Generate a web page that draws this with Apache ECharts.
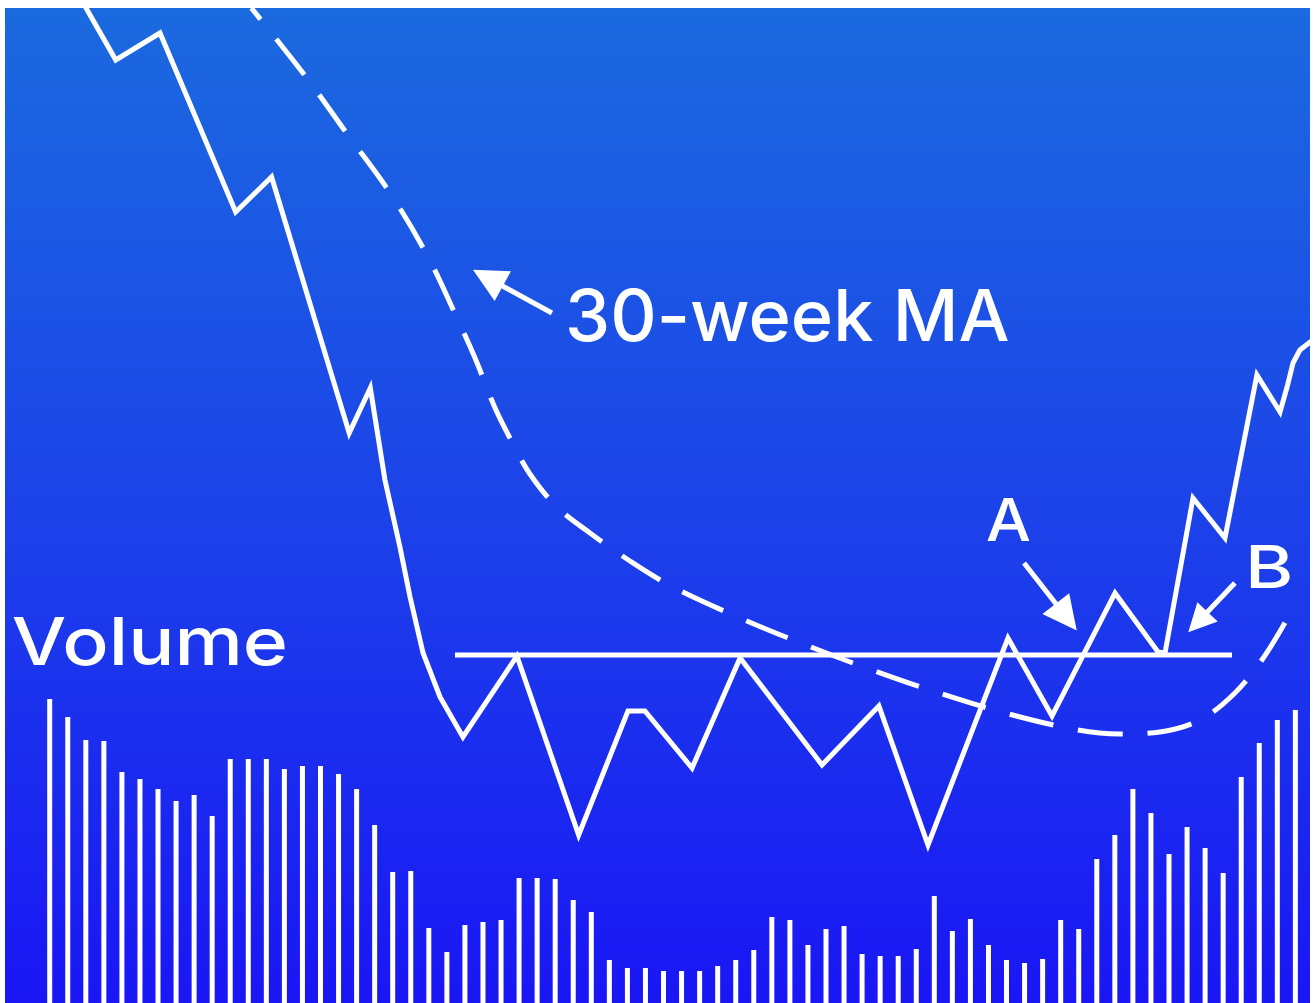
<!DOCTYPE html>
<html>
<head>
<meta charset="utf-8">
<script src="https://cdn.jsdelivr.net/npm/echarts@6/dist/echarts.min.js"></script>
<style>
html,body{margin:0;padding:0;background:#ffffff;}
#c{width:1314px;height:1003px;}
</style>
</head>
<body>
<div id="c"></div>
<script>
// ---- data ----
const volumeWeeks = [1,2,3,4,5,6,7,8,9,10,11,12,13,14,15,16,17,18,19,20,21,22,23,24,25,26,27,28,29,30,31,32,33,34,35,36,37,38,39,40,41,42,43,44,45,46,47,48,49,50,51,52,53,54,55,56,57,58,59,60,61,62,63,64,65,66,67,68,69,70];
const volume = [304,286,263,262,231,224,214,202,208,187,244,244,244,234,237,237,229,214,178,131,132,75,51,78,81,83,125,125,124,103,91,43,35,35,32,32,32,37,43,53,86,83,58,74,77,49,47,47,54,107,72,84,58,43,40,44,83,74,144,168,214,190,149,176,155,130,226,260,283,293];

const priceWeeks = [2.76,4.66,7.11,11.30,13.29,17.59,18.76,19.57,20.40,20.96,21.68,22.62,23.89,26.88,30.30,33.03,33.97,36.58,39.24,43.78,46.93,49.65,54.08,56.52,60.01,62.39,62.78,64.33,66.10,67.87,69.15,69.54,69.87,70.25,70.97];
const priceValues = [100.3,94.3,97.0,79.1,82.6,57.0,61.5,52.3,45.6,40.6,35.0,30.6,26.6,34.7,16.8,29.2,29.2,23.5,34.5,23.8,29.7,15.8,36.5,28.7,41.0,35.1,35.0,50.5,46.5,62.8,59.1,61.6,64.0,65.3,66.3];

const maWeeks = [12.17,15.24,17.52,19.85,21.90,23.56,24.56,25.67,26.61,27.60,29.10,30.93,33.14,35.52,39.24,42.89,46.55,50.26,54.13,57.96,60.28,62.50,64.71,66.65,68.26,69.70];
const maValues = [99.5,92.5,86.8,81.0,74.8,68.5,64.5,59.5,56.1,52.9,49.6,47.0,44.2,41.6,38.5,35.8,33.3,31.0,28.9,27.3,26.9,27.1,28.3,31.0,34.6,38.9];

const resistanceWeeks = [23.45, 66.49];
const resistanceLevel = 34.8;

// annotation arrows: tail point and arrow-head centre
const arrowFrom = [[28.82,69.0],[54.97,44.0],[66.65,42.0]];
const arrowTo = [[25.27,72.5],[57.31,38.6],[64.60,38.1]];

const labelTexts = ['30-week MA','Volume','A','B'];

// ---- build ----
const chart = echarts.init(document.getElementById('c'), null, {renderer:'canvas'});

const FONT_FAMILY = 'Inter, "Noto Sans", sans-serif';
const FONT_WEIGHT = 500;
const mctx = document.createElement('canvas').getContext('2d');
function fitText(text, left, right, capTop, baseline) {
  const test = 100;
  mctx.font = FONT_WEIGHT + ' ' + test + 'px ' + FONT_FAMILY;
  mctx.textBaseline = 'alphabetic';
  const capR = mctx.measureText('H').actualBoundingBoxAscent / test;
  const size = (baseline - capTop) / capR;
  mctx.font = FONT_WEIGHT + ' ' + size + 'px ' + FONT_FAMILY;
  mctx.textBaseline = 'alphabetic';
  const m = mctx.measureText(text);
  const ink = m.actualBoundingBoxLeft + m.actualBoundingBoxRight;
  const sx = (right - left) / ink;
  mctx.textBaseline = 'middle';
  const mH = mctx.measureText('H').actualBoundingBoxAscent;
  return {
    type: 'text', z: 100,
    x: left + m.actualBoundingBoxLeft * sx,
    y: capTop + mH,
    scaleX: sx,
    style: {
      text: text, x: 0, y: 0,
      font: FONT_WEIGHT + ' ' + size + 'px ' + FONT_FAMILY,
      fill: '#ffffff',
      textAlign: 'left', textVerticalAlign: 'middle',
      align: 'left', verticalAlign: 'middle'
    }
  };
}

const pricePts = priceWeeks.map((w,i)=>[w, priceValues[i]]);
const maPts = maWeeks.map((w,i)=>[w, maValues[i]]);
const volPts = volumeWeeks.map((w,i)=>[w, volume[i]]);

const headSizes = [34, 34, 28];
const arrowData = arrowFrom.map((f,i)=>[
  {coord:f, symbol:'none'},
  {coord:arrowTo[i], symbol:'triangle', symbolSize:headSizes[i]}
]);

chart.setOption({
  animation: false,
  backgroundColor: '#ffffff',
  graphic: [
    {
      type: 'rect', z: -10,
      shape: {x:5, y:8, width:1305, height:995},
      style: {
        fill: new echarts.graphic.LinearGradient(0,0,0,1,[
          {offset:0, color:'#1b6adf'},
          {offset:0.5, color:'#1c43e9'},
          {offset:1, color:'#1a16f5'}
        ])
      }
    },
    fitText(labelTexts[0], 569, 1008, 289, 341),
    fitText(labelTexts[1], 13, 285, 617, 665),
    fitText(labelTexts[2], 987, 1030, 498, 541),
    fitText(labelTexts[3], 1250, 1290, 545, 588)
  ],
  grid: {left:5, right:4, top:8, bottom:0, containLabel:false},
  xAxis: [{type:'value', min:-1.476, max:70.81, show:false}],
  yAxis: [
    {type:'value', min:0, max:99.5, show:false},
    {type:'value', min:0, max:995, show:false}
  ],
  series: [
    {
      type:'bar', name:'Volume', xAxisIndex:0, yAxisIndex:1,
      data: volPts, barWidth:5,
      itemStyle:{color:'#ffffff'}, silent:true
    },
    {
      type:'line', name:'Price', data: pricePts, showSymbol:false, symbol:'none',
      lineStyle:{color:'#ffffff', width:5, join:'miter', miterLimit:10},
      z:5, silent:true
    },
    {
      type:'line', name:'30-week MA', data: maPts, showSymbol:false, symbol:'none',
      smooth:0.35,
      lineStyle:{color:'#ffffff', width:5, type:[45,25], dashOffset:30, cap:'butt'},
      z:4, silent:true
    },
    {
      type:'line', name:'Resistance',
      data: resistanceWeeks.map(w=>[w, resistanceLevel]),
      showSymbol:false, symbol:'none',
      lineStyle:{color:'#ffffff', width:5},
      z:4, silent:true,
      markLine: {
        silent:true, animation:false,
        symbol:['none','triangle'], symbolSize:34,
        label:{show:false},
        lineStyle:{color:'#ffffff', width:5, type:'solid'},
        data: arrowData
      }
    }
  ]
});
</script>
</body>
</html>
